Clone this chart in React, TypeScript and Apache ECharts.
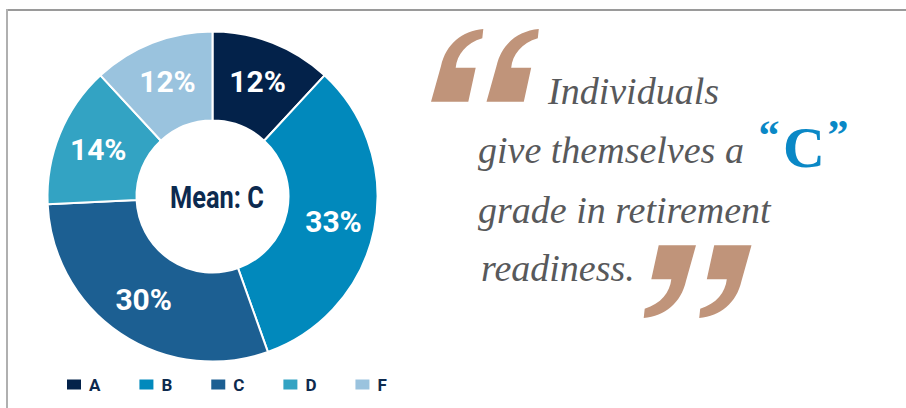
import React, { useEffect, useRef } from "react";
import * as echarts from "echarts";

const categories = ["A", "B", "C", "D", "F"];
const shares = [12, 33, 30, 14, 12];
const sliceColors = ["#03224a", "#0189bc", "#1c5f92", "#33a3c3", "#9ac3de"];
const centerLabel = "Mean: C";
const quoteLines = ["Individuals", "give themselves a", "grade in retirement", "readiness."];
const grade = "C";

const QUOTE_D =
  "M -1.4 -36.3 C -22.7 -34.3 -38.7 -21.3 -43.7 0.7 L -53.7 36.4 L -16.4 36.4 L -9 2.4 L -29 2.4 C -27.7 -10.3 -18.7 -22.3 -2.4 -27 Z " +
  "M 54.1 -36.3 C 32.8 -34.3 16.8 -21.3 11.8 0.7 L 1.8 36.4 L 39.1 36.4 L 46.5 2.4 L 26.5 2.4 C 27.8 -10.3 36.8 -22.3 53.1 -27 Z";

echarts.graphic.registerShape("quotePair", echarts.graphic.extendPath(QUOTE_D, {}));

const condensed = "Roboto,'Liberation Sans',sans-serif";
const serif = "'Liberation Serif','DejaVu Serif',serif";

export default function App() {
  const ref = useRef<HTMLDivElement>(null);
  useEffect(() => {
    if (!ref.current) return;
    const chart = echarts.init(ref.current, null, { renderer: "svg" });
    const brown = "#c0947a";
    const gray = "#58595b";
    const blue = "#0a88c6";
    const lineYs = [91, 150, 210, 268];
    const lineXs = [548, 478, 478, 481];
    chart.setOption({
      animation: false,
      backgroundColor: "#ffffff",
      legend: {
        left: 65,
        top: 376,
        padding: 0,
        itemWidth: 16,
        itemHeight: 12,
        itemGap: 37,
        icon: "rect",
        data: categories,
        textStyle: {
          color: "#0d2a4e",
          fontFamily: condensed,
          fontWeight: "bold",
          fontSize: 17,
          padding: [0, 0, 0, 2],
        },
      },
      series: [
        {
          type: "pie",
          center: [212.5, 196.5],
          radius: [76, 165],
          startAngle: 90,
          clockwise: true,
          avoidLabelOverlap: false,
          itemStyle: { borderColor: "#ffffff", borderWidth: 2 },
          label: {
            show: true,
            position: "inside",
            formatter: "{c}%",
            color: "#ffffff",
            fontFamily: condensed,
            fontWeight: "bold",
            fontSize: 30,
          },
          labelLine: { show: false },
          emphasis: { disabled: true },
          data: categories.map((name, i) => ({
            name,
            value: shares[i],
            itemStyle: { color: sliceColors[i] },
          })),
        },
      ],
      graphic: [
        { type: "line", silent: true, shape: { x1: 6, y1: 10, x2: 906, y2: 10 }, style: { stroke: "#9a9a9a", lineWidth: 2 } },
        { type: "line", silent: true, shape: { x1: 7, y1: 9, x2: 7, y2: 408 }, style: { stroke: "#b0b0b0", lineWidth: 2 } },
        {
          type: "text",
          silent: true,
          x: 217,
          y: 198,
          scaleX: 0.82,
          style: {
            text: centerLabel,
            x: 0,
            y: 0,
            textAlign: "center",
            textVerticalAlign: "middle",
            fill: "#0c2a4f",
            font: `bold 31px ${condensed}`,
          },
        },
        { type: "quotePair", silent: true, x: 484.7, y: 65.3, style: { fill: brown } },
        { type: "quotePair", silent: true, x: 697.8, y: 281.7, rotation: Math.PI, style: { fill: brown } },
        ...quoteLines.map((t, i) => ({
          type: "text",
          silent: true,
          style: {
            text: t,
            x: lineXs[i],
            y: lineYs[i],
            textAlign: "left",
            textVerticalAlign: "middle",
            fill: gray,
            font: `italic 38px ${serif}`,
          },
        })),
        {
          type: "text",
          silent: true,
          style: { text: "\u201C", x: 769, y: 135, textAlign: "center", textVerticalAlign: "middle", fill: blue, font: `bold 42px ${serif}` },
        },
        {
          type: "text",
          silent: true,
          style: { text: grade, x: 804, y: 147, textAlign: "center", textVerticalAlign: "middle", fill: blue, font: `bold 58px ${serif}` },
        },
        {
          type: "text",
          silent: true,
          style: { text: "\u201D", x: 838, y: 135, textAlign: "center", textVerticalAlign: "middle", fill: blue, font: `bold 42px ${serif}` },
        },
      ],
    });
    return () => chart.dispose();
  }, []);
  return (
    <div
      ref={ref}
      style={{ position: "fixed", left: 0, top: 0, width: 906, height: 408, background: "#fff" }}
    />
  );
}
